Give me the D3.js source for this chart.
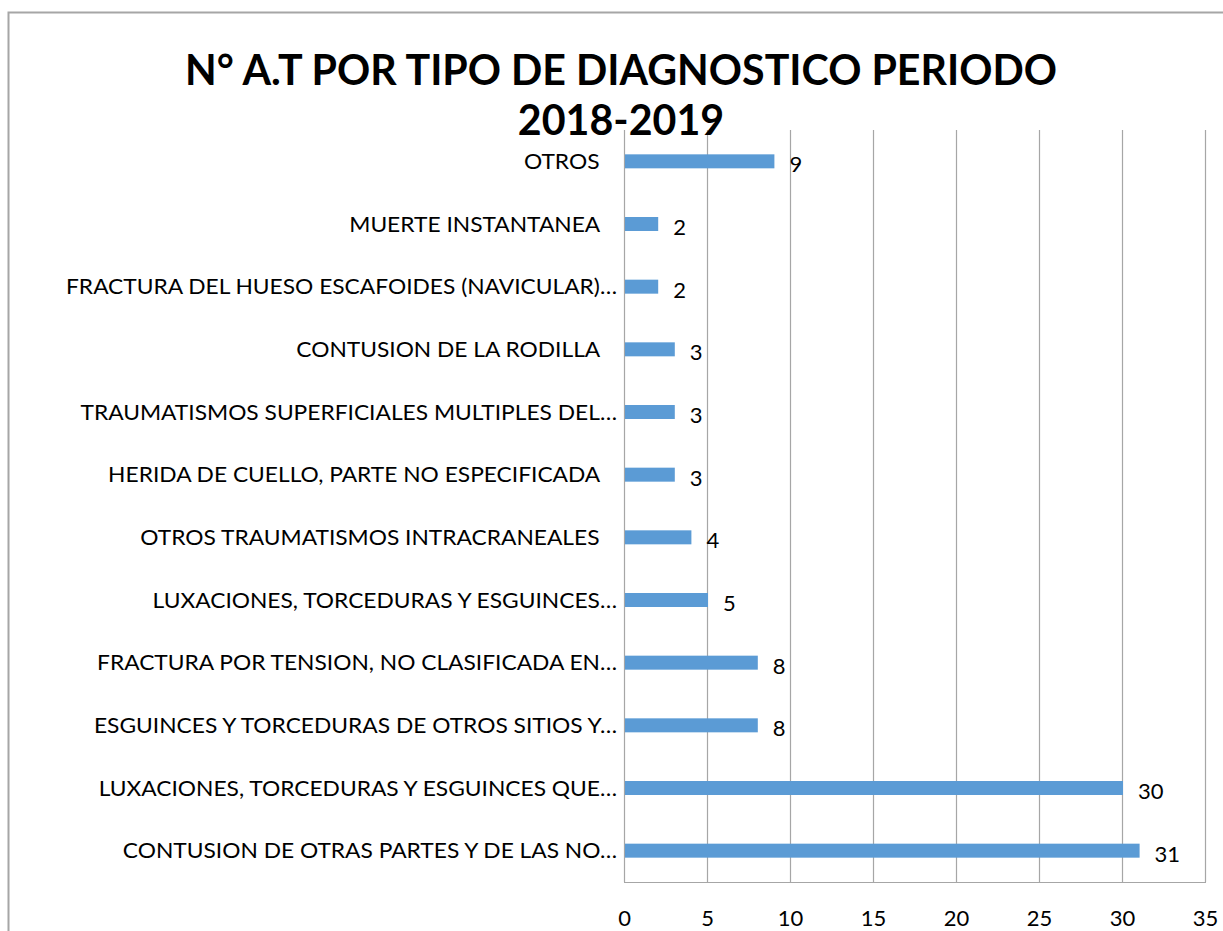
<!DOCTYPE html>
<html lang="es">
<head>
<meta charset="UTF-8">
<script src="https://d3js.org/d3.v7.min.js"></script>
<title>N° A.T por tipo de diagnostico</title>
<style>
  body { margin: 0; background: white; }
  svg text { font-family: Lato, "Liberation Sans", Arial, sans-serif; fill: #000; white-space: pre; }
</style>
</head>
<body>
<svg id="chart"></svg>
<script>
// categorias, de arriba hacia abajo
const categories = [
  "OTROS   ",
  "MUERTE INSTANTANEA   ",
  "FRACTURA DEL HUESO ESCAFOIDES (NAVICULAR)…",
  "CONTUSION DE LA RODILLA   ",
  "TRAUMATISMOS SUPERFICIALES MULTIPLES DEL…",
  "HERIDA DE CUELLO, PARTE NO ESPECIFICADA   ",
  "OTROS TRAUMATISMOS INTRACRANEALES   ",
  "LUXACIONES, TORCEDURAS Y ESGUINCES…",
  "FRACTURA POR TENSION, NO CLASIFICADA EN…",
  "ESGUINCES Y TORCEDURAS DE OTROS SITIOS Y…",
  "LUXACIONES, TORCEDURAS Y ESGUINCES QUE…",
  "CONTUSION DE OTRAS PARTES Y DE LAS NO…"
];
const values = [9, 2, 2, 3, 3, 3, 4, 5, 8, 8, 30, 31];
const xTicks = [0, 5, 10, 15, 20, 25, 30, 35];
const titleLines = ["N° A.T POR TIPO DE DIAGNOSTICO PERIODO", "2018-2019"];

const w = 1223, h = 931;
const margin = {top: 130, right: 18, bottom: 49, left: 624};
const data = categories.map((c, i) => ({cat: c, val: values[i]}));

const svg = d3.select("#chart").attr("width", w).attr("height", h);

// marco del grafico
svg.append("path")
   .attr("d", `M8.5,${h} L8.5,12.5 L${w},12.5`)
   .attr("fill", "none")
   .attr("stroke", "#a6a6a6")
   .attr("stroke-width", 2);

const x = d3.scaleLinear()
            .domain([0, 35])
            .range([margin.left, w - margin.right]);

const y = d3.scalePoint()
            .domain(categories)
            .range([margin.top, h - margin.bottom])
            .padding(0.5);

const barH = 14;

// lineas de cuadricula
svg.append("g")
   .selectAll("line")
   .data(xTicks)
   .enter()
   .append("line")
   .attr("x1", d => x(d) + 0.5)
   .attr("x2", d => x(d) + 0.5)
   .attr("y1", margin.top)
   .attr("y2", h - margin.bottom)
   .attr("stroke", "#a6a6a6")
   .attr("stroke-width", 1.2);

// linea base inferior
svg.append("line")
   .attr("x1", x(0))
   .attr("x2", x(35) + 1)
   .attr("y1", h - margin.bottom + 0.5)
   .attr("y2", h - margin.bottom + 0.5)
   .attr("stroke", "#a6a6a6")
   .attr("stroke-width", 1.2);

// ajusta el ancho del texto (la fuente original es mas estrecha)
function squeeze(sel, ratio) {
  sel.each(function() {
    const len = this.getComputedTextLength();
    d3.select(this).attr("textLength", len * ratio).attr("lengthAdjust", "spacingAndGlyphs");
  });
}

// eje x (solo etiquetas)
const xAxis = d3.axisBottom(x).tickValues(xTicks).tickSize(0).tickPadding(0);
const gx = svg.append("g")
   .attr("transform", "translate(0," + (h - margin.bottom) + ")")
   .call(xAxis);
gx.select(".domain").remove();
gx.selectAll("text")
  .attr("dy", null)
  .attr("y", 44)
  .style("font-size", "22px")
  .style("font-family", "Lato, 'Liberation Sans', Arial, sans-serif");

// barras
svg.selectAll("rect.bar")
   .data(data)
   .enter()
   .append("rect")
   .attr("class", "bar")
   .attr("x", x(0) + 1)
   .attr("y", d => y(d.cat) - barH / 2)
   .attr("width", d => x(d.val) - x(0))
   .attr("height", barH)
   .attr("fill", "#5b9bd5");

// etiquetas de valores
svg.selectAll("text.val")
   .data(data)
   .enter()
   .append("text")
   .attr("class", "val")
   .attr("x", d => x(d.val) + 16)
   .attr("y", d => y(d.cat) + 11)
   .style("font-size", "22px")
   .text(d => d.val);

// etiquetas de categorias
const catLabels = svg.selectAll("text.cat")
   .data(data)
   .enter()
   .append("text")
   .attr("class", "cat")
   .attr("x", x(0) - 7)
   .attr("y", d => y(d.cat) + 7.5)
   .attr("text-anchor", "end")
   .style("font-size", "21px")
   .text(d => d.cat);

// ajustar al ancho de la etiqueta mas larga
const longest = catLabels.filter((d, i) => i === 2).node();
squeeze(catLabels, 551 / longest.getComputedTextLength());

// titulo
const titles = svg.selectAll("text.title")
   .data(titleLines)
   .enter()
   .append("text")
   .attr("class", "title")
   .attr("x", 621)
   .attr("y", (d, i) => 85 + i * 50)
   .attr("text-anchor", "middle")
   .style("font-size", "42px")
   .style("font-weight", "bold")
   .text(d => d);
squeeze(titles, 872 / titles.node().getComputedTextLength());
</script>
</body>
</html>
